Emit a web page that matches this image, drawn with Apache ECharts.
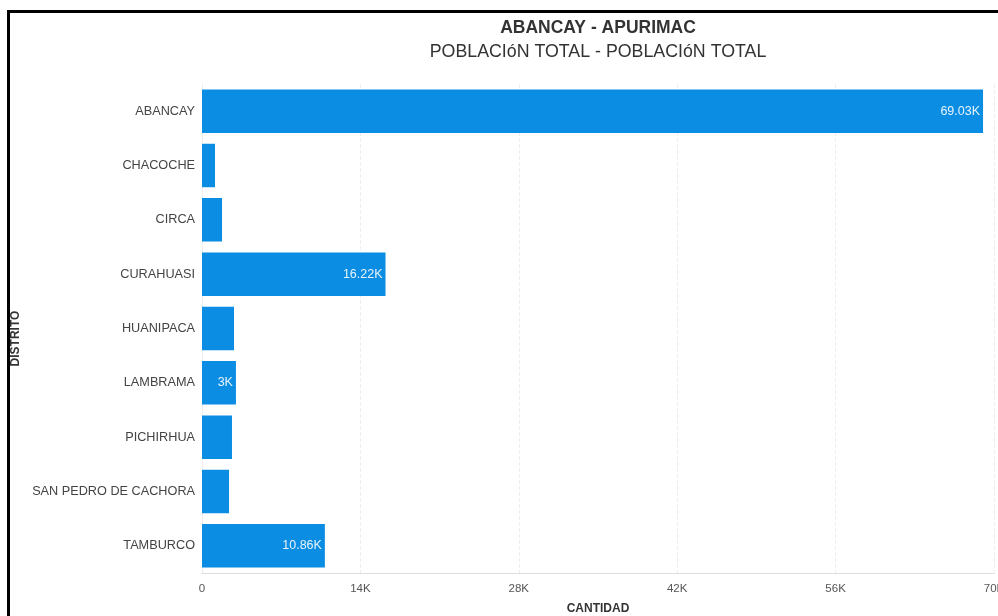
<!DOCTYPE html>
<html>
<head>
<meta charset="utf-8">
<script src="https://cdn.jsdelivr.net/npm/echarts@6/dist/echarts.min.js"></script>
<style>
  html, body { margin: 0; padding: 0; background: #fff; overflow: hidden; }
  #frame {
    position: absolute; left: 7px; top: 10px; width: 1200px; height: 700px;
    border-top: 3px solid #000; border-left: 3px solid #000;
  }
  #chart { position: absolute; left: 0; top: 0; width: 998px; height: 616px; }
</style>
</head>
<body>
<div id="frame"></div>
<div id="chart"></div>
<script>
// distritos y poblacion total
var distritos = ["ABANCAY", "CHACOCHE", "CIRCA", "CURAHUASI", "HUANIPACA", "LAMBRAMA", "PICHIRHUA", "SAN PEDRO DE CACHORA", "TAMBURCO"];
var poblacion = [69030, 1150, 1770, 16220, 2830, 3000, 2650, 2390, 10860];
// solo estas barras llevan etiqueta
var conEtiqueta = [true, false, false, true, false, true, false, false, true];

function fmtK(v) {
  if (v === 0) return "0";
  return parseFloat((v / 1000).toFixed(2)) + "K";
}

var chart = echarts.init(document.getElementById("chart"));

var datos = poblacion.map(function (v, i) {
  return { value: v, label: { show: conEtiqueta[i] } };
});

var option = {
  textStyle: { fontFamily: "Liberation Sans, Arial, sans-serif" },
  title: [
    {
      text: "ABANCAY - APURIMAC",
      left: 593, top: 14, textAlign: "center",
      textStyle: { fontSize: 17.5, fontWeight: "bold", color: "#333" }
    },
    {
      text: "POBLACIóN TOTAL - POBLACIóN TOTAL",
      left: 593, top: 38, textAlign: "center",
      textStyle: { fontSize: 17.8, fontWeight: "normal", color: "#333" }
    }
  ],
  grid: { left: 202, right: 4, top: 84, bottom: 43, containLabel: false, outerBoundsMode: "none" },
  xAxis: {
    type: "value",
    min: 0, max: 70000, interval: 14000,
    name: "CANTIDAD",
    nameLocation: "middle",
    nameGap: 30,
    nameTextStyle: { fontSize: 12, fontWeight: "bold", color: "#333" },
    axisLine: { show: true, lineStyle: { color: "#ddd" } },
    axisTick: { show: false },
    axisLabel: {
      color: "#555", fontSize: 11.5, margin: 10,
      formatter: function (v) { return fmtK(v); }
    },
    splitLine: { show: true, lineStyle: { color: "#eee", type: "dashed" } }
  },
  yAxis: {
    type: "category",
    data: distritos,
    inverse: true,
    name: "DISTRITO",
    nameLocation: "middle",
    nameGap: 180,
    nameRotate: 90,
    nameTextStyle: { fontSize: 12, fontWeight: "bold", color: "#333", padding: [0, 20, 0, 0] },
    axisLine: { show: true, lineStyle: { color: "#eee" } },
    axisTick: { show: false },
    axisLabel: { color: "#444", fontSize: 12.7, margin: 7, interval: 0 }
  },
  series: [
    {
      type: "bar",
      data: datos,
      barCategoryGap: "20%",
      itemStyle: { color: "#0a8de3" },
      label: {
        position: "insideRight",
        distance: 3,
        color: "#e8f4fc",
        fontSize: 12.5,
        formatter: function (p) { return fmtK(p.value); }
      }
    }
  ]
};

chart.setOption(option);
</script>
</body>
</html>
